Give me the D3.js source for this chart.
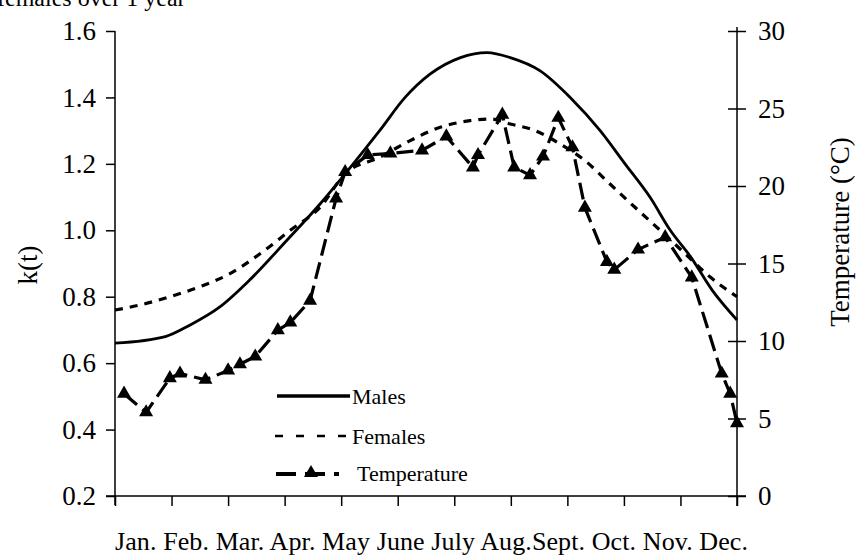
<!DOCTYPE html>
<html>
<head>
<meta charset="utf-8">
<script src="https://cdn.jsdelivr.net/npm/d3@7/dist/d3.min.js"></script>
<style>
  html, body { margin: 0; padding: 0; background: #fff; }
  svg { display: block; }
  text { font-family: "Liberation Serif", "DejaVu Serif", serif; fill: #000; }
</style>
</head>
<body>
<svg id="chart" width="856" height="558"></svg>
<script>
// Month names under the axis (0 = 1 Jan at the left axis, 11 = 1 Dec at the right axis)
const monthLabels = ["Jan.", "Feb.", "Mar.", "Apr.", "May", "June", "July", "Aug.", "Sept.", "Oct.", "Nov.", "Dec."];
const monthTicks = [0, 1, 2, 3, 4, 5, 6, 7, 8, 9, 10, 11];

// Left axis ticks (k(t)) and right axis ticks (temperature)
const kTicks = [0.2, 0.4, 0.6, 0.8, 1.0, 1.2, 1.4, 1.6];
const tempTicks = [0, 5, 10, 15, 20, 25, 30];

// Males k(t): position in months since 1 Jan and value
const malesMonth = [0, 0.89, 1.33, 1.86, 2.38, 3.04, 3.63, 4.07, 4.68, 5.13, 5.57, 6.11, 6.58, 6.99, 7.52, 8.05, 8.58, 9.02, 9.46, 9.82, 10.18, 10.56, 11];
const malesK     = [0.66, 0.68, 0.715, 0.77, 0.85, 0.97, 1.08, 1.17, 1.3, 1.4, 1.47, 1.52, 1.535, 1.52, 1.48, 1.4, 1.3, 1.2, 1.1, 1.0, 0.92, 0.82, 0.73];

// Females k(t)
const femalesMonth = [0, 0.44, 0.97, 1.5, 2.04, 2.57, 3.1, 3.63, 4.07, 4.68, 5.22, 5.75, 6.28, 6.64, 6.99, 7.43, 7.87, 8.31, 8.75, 9.19, 9.64, 10.08, 10.52, 11];
const femalesK     = [0.76, 0.775, 0.8, 0.83, 0.87, 0.93, 1.0, 1.07, 1.17, 1.22, 1.27, 1.31, 1.33, 1.335, 1.32, 1.3, 1.26, 1.21, 1.14, 1.07, 1.0, 0.93, 0.86, 0.8];

// Temperature observations (°C)
const tempMonth = [0.16, 0.55, 0.97, 1.15, 1.6, 2.0, 2.21, 2.48, 2.88, 3.1, 3.45, 3.91, 4.07, 4.47, 4.87, 5.43, 5.86, 6.33, 6.42, 6.85, 7.06, 7.34, 7.57, 7.84, 8.09, 8.31, 8.7, 8.83, 9.25, 9.73, 10.2, 10.73, 10.88, 11.0];
const tempC     = [6.6, 5.4, 7.6, 7.9, 7.5, 8.1, 8.5, 9.0, 10.7, 11.2, 12.6, 19.2, 20.9, 22.0, 22.1, 22.3, 23.2, 21.2, 22.0, 24.6, 21.2, 20.7, 21.9, 24.4, 22.5, 18.6, 15.1, 14.6, 15.9, 16.7, 14.1, 7.9, 6.6, 4.7];

const svg = d3.select("#chart");

const plotLeft = 115, plotRight = 737, plotTop = 31, plotBottom = 496;

const x = d3.scaleLinear().domain([0, 11]).range([plotLeft, plotRight]);
const yK = d3.scaleLinear().domain([0.2, 1.6]).range([plotBottom, plotTop]);
const yT = d3.scaleLinear().domain([0, 30]).range([plotBottom, plotTop]);

// Caption line running off the top edge
svg.append("text")
  .attr("x", -3).attr("y", 6)
  .attr("font-size", 24)
  .text("females over 1 year");

// Frame lines: left axis, bottom axis, right axis
svg.append("line").attr("x1", plotLeft).attr("x2", plotLeft).attr("y1", plotTop).attr("y2", plotBottom + 9)
  .attr("stroke", "#000").attr("stroke-width", 1.5);
svg.append("line").attr("x1", plotLeft - 9).attr("x2", plotRight + 9).attr("y1", plotBottom).attr("y2", plotBottom)
  .attr("stroke", "#000").attr("stroke-width", 1.5);
svg.append("line").attr("x1", plotRight).attr("x2", plotRight).attr("y1", plotTop - 4).attr("y2", plotBottom + 10)
  .attr("stroke", "#000").attr("stroke-width", 1.5);

// Left axis
const axL = svg.append("g").attr("transform", `translate(${plotLeft},0)`)
  .call(d3.axisLeft(yK).tickValues(kTicks).tickFormat(d3.format(".1f")).tickSize(9).tickPadding(10).tickSizeOuter(0));
axL.select(".domain").remove();
axL.selectAll("line").attr("stroke-width", 1.5);
axL.selectAll("text").attr("font-size", 27).style("font-family", "Liberation Serif");

// Right axis with ticks crossing the axis line
const axR = svg.append("g").attr("transform", `translate(${plotRight},0)`)
  .call(d3.axisRight(yT).tickValues(tempTicks).tickSize(9).tickPadding(12).tickSizeOuter(0));
axR.select(".domain").remove();
axR.selectAll(".tick line").attr("x1", -9).attr("stroke-width", 1.5);
axR.selectAll("text").attr("font-size", 27).style("font-family", "Liberation Serif");

// Bottom axis: a tick at the start of each month
const axB = svg.append("g").attr("transform", `translate(0,${plotBottom})`)
  .call(d3.axisBottom(x).tickValues(monthTicks).tickFormat("").tickSize(10).tickSizeOuter(0));
axB.select(".domain").remove();
axB.selectAll("line").attr("stroke-width", 1.5);

// Month names set as one line of type under the axis
svg.append("text")
  .attr("x", plotLeft)
  .attr("y", 550)
  .attr("font-size", 26)
  .attr("textLength", 633)
  .attr("lengthAdjust", "spacing")
  .text(monthLabels.join(" ").replace("Aug. Sept.", "Aug.Sept."));

// Axis titles
svg.append("text")
  .attr("transform", `translate(37,265) rotate(-90)`)
  .attr("text-anchor", "middle")
  .attr("font-size", 27)
  .text("k(t)");
svg.append("text")
  .attr("transform", `translate(849,232) rotate(-90)`)
  .attr("text-anchor", "middle")
  .attr("font-size", 27)
  .text("Temperature (°C)");

// Model curves
const smooth = d3.line().curve(d3.curveMonotoneX);
const malesPts = malesMonth.map((m, i) => [x(m), yK(malesK[i])]);
const femalesPts = femalesMonth.map((m, i) => [x(m), yK(femalesK[i])]);

svg.append("path").attr("d", smooth(femalesPts))
  .attr("fill", "none").attr("stroke", "#000").attr("stroke-width", 3.2)
  .attr("stroke-dasharray", "8,7");
svg.append("path").attr("d", smooth(malesPts))
  .attr("fill", "none").attr("stroke", "#000").attr("stroke-width", 2.8);

// Temperature series: long dashes with triangle markers
const tempPts = tempMonth.map((m, i) => [x(m), yT(tempC[i])]);
svg.append("path").attr("d", d3.line()(tempPts))
  .attr("fill", "none").attr("stroke", "#000").attr("stroke-width", 3.2)
  .attr("stroke-dasharray", "17,7");
const tri = d3.symbol().type(d3.symbolTriangle).size(85);
svg.append("g").selectAll("path").data(tempPts).join("path")
  .attr("transform", d => `translate(${d[0]},${d[1]})`)
  .attr("d", tri).attr("fill", "#000");

// Legend
const lg = svg.append("g");
lg.append("line").attr("x1", 277).attr("x2", 350).attr("y1", 396).attr("y2", 396)
  .attr("stroke", "#000").attr("stroke-width", 3.5);
lg.append("text").attr("x", 352).attr("y", 404).attr("font-size", 22).text("Males");
lg.append("line").attr("x1", 275).attr("x2", 350).attr("y1", 436).attr("y2", 436)
  .attr("stroke", "#000").attr("stroke-width", 2.5).attr("stroke-dasharray", "8,13");
lg.append("text").attr("x", 352).attr("y", 444).attr("font-size", 22).text("Females");
lg.append("line").attr("x1", 276).attr("x2", 339).attr("y1", 474).attr("y2", 474)
  .attr("stroke", "#000").attr("stroke-width", 3.8).attr("stroke-dasharray", "20,9");
lg.append("path").attr("transform", "translate(311,473)").attr("d", tri).attr("fill", "#000");
lg.append("text").attr("x", 357).attr("y", 481).attr("font-size", 22).text("Temperature");
</script>
</body>
</html>
